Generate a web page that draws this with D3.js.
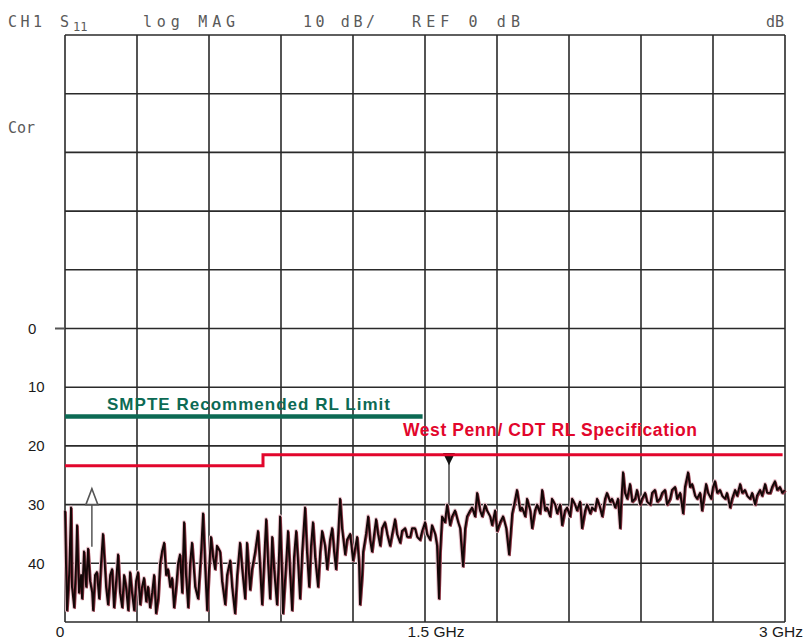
<!DOCTYPE html>
<html>
<head>
<meta charset="utf-8">
<script src="https://cdn.jsdelivr.net/npm/d3@7/dist/d3.min.js"></script>
<style>
  body { margin: 0; background: #fff; }
  svg { display: block; }
</style>
</head>
<body>
<div id="chart"></div>
<script>
// S11 trace: frequency (MHz) and return loss (dB)
var freqMHz = [
  0, 4, 8, 17, 25, 29, 38, 46, 50, 58, 67, 71, 79, 88, 96, 104, 113, 117, 125, 133,
  142, 150, 158, 163, 171, 179, 188, 196, 204, 213, 221, 229, 238, 246, 254, 263, 271, 279, 288, 296,
  304, 313, 321, 329, 338, 346, 354, 363, 371, 379, 388, 396, 404, 413, 421, 429, 438, 446, 454, 463,
  471, 479, 488, 496, 504, 513, 521, 529, 542, 554, 567, 575, 583, 592, 600, 608, 617, 625, 633, 646,
  654, 667, 675, 688, 696, 708, 717, 729, 738, 750, 758, 771, 779, 792, 804, 813, 821, 829, 838, 846,
  854, 863, 871, 883, 892, 896, 904, 908, 921, 929, 938, 946, 954, 963, 971, 979, 988, 1000, 1008, 1017,
  1025, 1033, 1042, 1054, 1063, 1071, 1083, 1092, 1104, 1113, 1121, 1129, 1138, 1146, 1154, 1167, 1175, 1188, 1200, 1217,
  1225, 1229, 1238, 1242, 1254, 1263, 1271, 1279, 1288, 1296, 1304, 1313, 1321, 1333, 1342, 1354, 1363, 1375, 1383, 1396,
  1404, 1417, 1425, 1438, 1446, 1458, 1467, 1479, 1488, 1500, 1508, 1521, 1529, 1542, 1550, 1558, 1563, 1571, 1583, 1592,
  1604, 1613, 1625, 1638, 1646, 1658, 1667, 1675, 1688, 1696, 1708, 1717, 1729, 1738, 1750, 1758, 1771, 1779, 1792, 1800,
  1813, 1825, 1838, 1850, 1863, 1871, 1883, 1896, 1904, 1917, 1925, 1938, 1946, 1958, 1967, 1979, 1988, 2000, 2008, 2021,
  2029, 2042, 2050, 2063, 2071, 2083, 2092, 2104, 2113, 2125, 2133, 2146, 2154, 2167, 2175, 2188, 2196, 2208, 2217, 2229,
  2238, 2250, 2258, 2271, 2279, 2292, 2304, 2313, 2317, 2325, 2333, 2342, 2354, 2363, 2375, 2383, 2396, 2404, 2417, 2425,
  2438, 2446, 2458, 2467, 2479, 2488, 2500, 2508, 2521, 2529, 2542, 2550, 2563, 2575, 2583, 2596, 2604, 2613, 2625, 2633,
  2646, 2654, 2663, 2671, 2679, 2692, 2700, 2708, 2717, 2729, 2738, 2750, 2758, 2771, 2779, 2792, 2800, 2813, 2821, 2833,
  2842, 2854, 2863, 2875, 2883, 2896, 2904, 2917, 2925, 2938, 2946, 2958, 2967, 2979, 2988, 3000];
var returnLoss = [
  31, 40, 48, 42, 30.5, 44, 47.5, 40, 33.5, 45, 42, 46, 38, 44, 37.5, 43, 45, 48, 42, 41.5,
  46, 40, 35, 38.5, 44, 47, 42, 41, 47.5, 43, 38.5, 45, 47.5, 42, 44, 48, 41.5, 45, 48, 43,
  41.5, 47, 44, 42.5, 46.5, 44, 47.5, 45, 42, 48.5, 46, 40, 38, 36.5, 42, 41, 44, 42.5, 47.5, 44,
  40, 38.5, 45, 33, 42, 47.5, 40, 36.5, 44, 46, 38, 31.5, 40, 48, 41, 35.5, 39, 41, 37, 38,
  43, 47, 42, 39.5, 44, 48.5, 42, 36.5, 41, 46, 36.5, 44.5, 41, 38, 34.5, 41, 47, 40, 32.5, 40,
  46, 35.5, 41, 47, 38, 32, 42, 48.5, 40, 34.5, 42, 48, 39, 34.5, 40, 46, 38, 30.5, 38, 44,
  37, 33, 39, 44, 38, 34.5, 37, 41, 36, 34, 38, 41, 35, 29, 34, 38.5, 36, 35, 39.5, 35.5,
  40, 47, 42, 38, 35, 32, 36, 38, 35, 32.5, 35, 37, 34, 33, 35, 37, 35, 32.5, 35, 36.5,
  34.5, 34, 35.5, 35.5, 34, 34, 35.5, 36, 34.5, 33, 35, 36, 33.5, 35, 37, 46, 38, 32, 33, 30,
  33.5, 32, 31, 33, 34, 40.5, 34, 32, 31, 30.5, 32, 28, 31, 32, 30, 31, 32, 33.5, 31, 34.5,
  33, 32, 34, 38.5, 31.5, 30, 27.5, 31, 30.5, 32, 29, 31, 34, 31, 30, 31.5, 27.5, 31, 30.5, 32,
  29, 30, 31.5, 30, 33.5, 31, 30.5, 32, 29, 30, 31, 29.5, 34, 31, 30, 31.5, 30.5, 31, 29, 30.5,
  32, 29, 28, 29.5, 29, 30.5, 29, 34, 30, 24.5, 28, 29, 26.5, 29.5, 29, 27.5, 30, 29, 28, 29.5,
  30, 28, 27.5, 29.5, 29, 28, 27.5, 30, 29, 27.5, 27, 29, 28, 31.5, 27, 24.5, 27, 26.5, 28.5, 29,
  28, 31, 28.5, 26.5, 28, 29, 27, 26, 28, 27.5, 28.5, 29, 28, 30.5, 29, 27.5, 28.5, 26.5, 28, 27.5,
  28.5, 29, 28, 30, 28.5, 27.5, 28.5, 26.5, 28, 28, 27, 26, 27.5, 27, 28, 27.5];

// limit lines
var smpteFreq = [0, 1490];
var smpteRL = [15, 15];
var westPennFreq = [0, 825, 825, 2990];
var westPennRL = [23.4, 23.4, 21.5, 21.5];

// markers: frequency, symbol top and stem bottom (dB)
var markerFreq = [112, 1600];
var markerTop = [27.3, 21.2];
var markerBottom = [37.2, 30];

var yTicks = [0, 10, 20, 30, 40];
var xTickFreqs = [0, 1500, 3000];
var xTickLabels = ['0', '1.5 GHz', '3 GHz'];

var w = 804, h = 641;
var plotL = 65, plotR = 785, plotT = 35, plotB = 622;

var svg = d3.select('#chart').append('svg')
  .attr('width', w)
  .attr('height', h);

var x = d3.scaleLinear().domain([0, 3000]).range([plotL, plotR]);
var y = d3.scaleLinear().domain([-50, 50]).range([plotT, plotB]);

// header, analyzer style
var head = svg.append('g')
  .style('font-family', 'DejaVu Sans Mono, monospace')
  .style('font-size', '15px')
  .attr('fill', '#5a5a5a');
head.append('text').attr('x', 8).attr('y', 27).attr('textLength', 34).text('CH1');
head.append('text').attr('x', 60).attr('y', 27).text('S');
head.append('text').attr('x', 73).attr('y', 31).style('font-size', '12px').text('11');
head.append('text').attr('x', 143).attr('y', 27).attr('textLength', 92).text('log MAG');
head.append('text').attr('x', 303).attr('y', 27).attr('textLength', 72).text('10 dB/');
head.append('text').attr('x', 412).attr('y', 27).attr('textLength', 108).text('REF 0 dB');
head.append('text').attr('x', 784).attr('y', 27).attr('text-anchor', 'end').text('dB');
head.append('text').attr('x', 8).attr('y', 133).attr('textLength', 27).text('Cor');

// graticule
var grid = svg.append('g').attr('stroke', '#2a2a2a').attr('stroke-width', 1.6);
grid.selectAll('.v').data(d3.range(0, 3001, 300)).enter().append('line')
  .attr('x1', d => x(d)).attr('x2', d => x(d))
  .attr('y1', plotT).attr('y2', plotB);
grid.selectAll('.h').data(d3.range(-50, 51, 10)).enter().append('line')
  .attr('x1', plotL).attr('x2', plotR)
  .attr('y1', d => y(d)).attr('y2', d => y(d));
// reference position stub
svg.append('line')
  .attr('x1', plotL - 10).attr('x2', plotL)
  .attr('y1', y(0)).attr('y2', y(0))
  .attr('stroke', '#555').attr('stroke-width', 2);

// y labels
svg.append('g').selectAll('text').data(yTicks).enter().append('text')
  .attr('x', 28)
  .attr('y', d => y(d))
  .attr('dy', '0.35em')
  .style('font-family', 'Liberation Sans, Arial, sans-serif')
  .style('font-size', '15px')
  .attr('fill', '#1a1a1a')
  .text(d => d);

// x labels
var xAnchor = ['middle', 'middle', 'end'];
var xShift = [-5, 11, 18];
svg.append('g').selectAll('text').data(xTickFreqs).enter().append('text')
  .attr('x', (d, i) => x(d) + xShift[i])
  .attr('y', 637)
  .attr('text-anchor', (d, i) => xAnchor[i])
  .style('font-family', 'Liberation Sans, Arial, sans-serif')
  .style('font-size', '15.5px')
  .attr('fill', '#1a1a1a')
  .text((d, i) => xTickLabels[i]);

// trace: pink halo, maroon shadow, black core
var trace = freqMHz.map((f, i) => [f, returnLoss[i]]);
var line = d3.line().x(d => x(d[0])).y(d => y(d[1]));
svg.append('path').datum(trace)
  .attr('d', line)
  .attr('fill', 'none')
  .attr('stroke', '#e9c2cb')
  .attr('stroke-width', 4)
  .attr('stroke-linejoin', 'round');
svg.append('path').datum(trace)
  .attr('d', line)
  .attr('transform', 'translate(1,1)')
  .attr('fill', 'none')
  .attr('stroke', '#85303f')
  .attr('stroke-width', 1.6)
  .attr('stroke-linejoin', 'round');
svg.append('path').datum(trace)
  .attr('d', line)
  .attr('fill', 'none')
  .attr('stroke', '#140707')
  .attr('stroke-width', 1.9)
  .attr('stroke-linejoin', 'round');

// markers
svg.append('line')
  .attr('x1', x(markerFreq[0])).attr('x2', x(markerFreq[0]))
  .attr('y1', y(markerTop[0])).attr('y2', y(markerBottom[0]))
  .attr('stroke', '#555').attr('stroke-width', 1.5);
svg.append('path')
  .attr('d', 'M' + (x(markerFreq[0]) - 6) + ',' + y(30) + 'L' + x(markerFreq[0]) + ',' + y(markerTop[0]) + 'L' + (x(markerFreq[0]) + 6) + ',' + y(30) + 'Z')
  .attr('fill', '#fff').attr('stroke', '#555').attr('stroke-width', 1.6);
svg.append('line')
  .attr('x1', x(markerFreq[1])).attr('x2', x(markerFreq[1]))
  .attr('y1', y(markerTop[1])).attr('y2', y(markerBottom[1]))
  .attr('stroke', '#444').attr('stroke-width', 1.5);
svg.append('path')
  .attr('d', 'M' + (x(markerFreq[1]) - 6) + ',' + y(markerTop[1]) + 'L' + (x(markerFreq[1]) + 6) + ',' + y(markerTop[1]) + 'L' + x(markerFreq[1]) + ',' + y(23.3) + 'Z')
  .attr('fill', '#111');

// limit lines
var limitLine = d3.line().x(d => x(d[0])).y(d => y(d[1]));
svg.append('path')
  .datum(smpteFreq.map((f, i) => [f, smpteRL[i]]))
  .attr('d', limitLine)
  .attr('fill', 'none')
  .attr('stroke', '#0c6a54')
  .attr('stroke-width', 4.5);
svg.append('path')
  .datum(westPennFreq.map((f, i) => [f, westPennRL[i]]))
  .attr('d', limitLine)
  .attr('fill', 'none')
  .attr('stroke', '#e2062c')
  .attr('stroke-width', 3);

svg.append('text')
  .attr('x', 107).attr('y', 410)
  .attr('textLength', 283)
  .style('font-family', 'Liberation Sans, Arial, sans-serif')
  .style('font-size', '17px')
  .style('font-weight', 'bold')
  .attr('fill', '#0c6a54')
  .text('SMPTE Recommended RL Limit');
svg.append('text')
  .attr('x', 403).attr('y', 436)
  .attr('textLength', 294)
  .style('font-family', 'Liberation Sans, Arial, sans-serif')
  .style('font-size', '17.5px')
  .style('font-weight', 'bold')
  .attr('fill', '#e2062c')
  .text('West Penn/ CDT RL Specification');
</script>
</body>
</html>
